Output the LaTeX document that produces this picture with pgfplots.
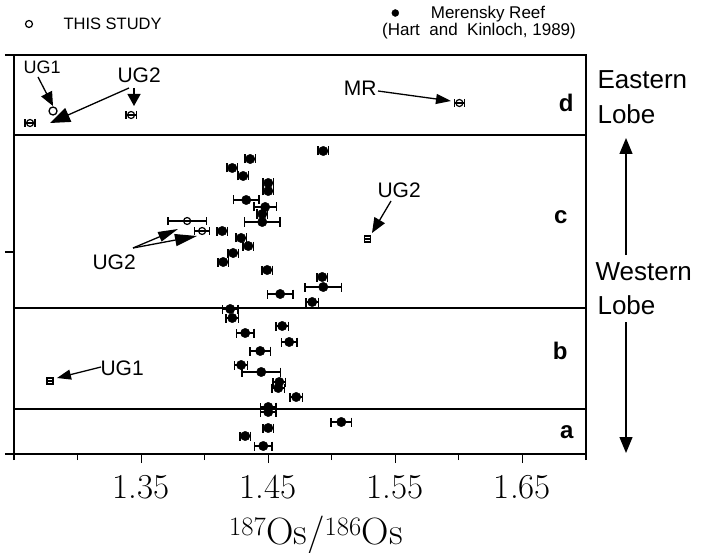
\documentclass[border=0pt]{standalone}
\usepackage{fontspec}
\setmainfont{Liberation Sans}
\newfontfamily\lmfont{Latin Modern Roman}
\usepackage{pgfplots}
\pgfplotsset{compat=1.18}
\usepackage{pgfplotstable}
\usetikzlibrary{arrows.meta}

% Merensky Reef (Hart and Kinloch, 1989): x, row position, x error
\pgfplotstableread{
x y ex
1.4933 303 0.004
1.4358 295 0.004
1.4217 286 0.004
1.4303 278 0.004
1.4500 271 0.004
1.4500 263 0.004
1.4327 254 0.010
1.4476 247 0.0087
1.4453 240 0.004
1.4453 232 0.014
1.4138 223 0.004
1.4287 216 0.004
1.4343 208 0.004
1.4224 201 0.004
1.4146 192 0.004
1.4492 184 0.004
1.4925 177 0.004
1.4933 167 0.0145
1.4594 160 0.010
1.4846 152 0.005
1.4201 145 0.006
1.4217 136 0.005
1.4610 128 0.005
1.4319 121 0.007
1.4665 112 0.006
1.4437 103 0.008
1.4287 89 0.005
1.4445 82 0.015
1.4587 72 0.005
1.4579 66 0.005
1.4720 57 0.005
1.4500 47 0.006
1.4500 42 0.006
1.5075 32 0.008
1.4500 26 0.004
1.4319 18 0.004
1.4461 8 0.007
}\mrdata

% This study, open circles
\pgfplotstableread{
x y ex
1.2626 331 0.004
1.3421 339 0.004
1.6004 351 0.004
1.3862 233 0.015
1.3980 223 0.006
}\studydata

% This study, open squares
\pgfplotstableread{
x y ex
1.5280 215 0.0
1.2783 73 0.002
}\studysq

\begin{document}
\begin{tikzpicture}
\begin{axis}[
  at={(14pt,98pt)}, anchor=south west,
  scale only axis, width=572pt, height=399pt,
  xmin=1.25, xmax=1.70, ymin=0, ymax=399,
  clip=false,
  axis line style={line width=1.3pt},
  xtick={1.35,1.45,1.55,1.65},
  minor xtick={1.25,1.30,1.40,1.50,1.60,1.70},
  ytick={0,202,399}, yticklabels={},
  xtick pos=bottom, ytick pos=left,
  tick align=outside,
  tick style={black, line width=1.2pt},
  major tick length=9pt, minor tick length=6pt,
  xticklabel style={font=\lmfont\fontsize{35}{40}\selectfont, yshift=-9pt},
  x tick label style={/pgf/number format/assume math mode=true, /pgf/number format/precision=2, /pgf/number format/fixed, /pgf/number format/fixed zerofill},
  error bars/error mark=|,
]
% panel separators
\draw[line width=1.3pt] (axis cs:1.25,319) -- (axis cs:1.70,319);
\draw[line width=1.3pt] (axis cs:1.25,146) -- (axis cs:1.70,146);
\draw[line width=1.3pt] (axis cs:1.25,45) -- (axis cs:1.70,45);

\addplot[only marks, mark=*, mark size=4.7pt, black,
  error bars/.cd, x dir=both, x explicit, error mark=|,
  error bar style={line width=1.3pt, black},
  error mark options={black, mark size=4.5pt, line width=1.4pt}]
  table[x=x, y=y, x error=ex] {\mrdata};

\addplot[only marks, mark=o, mark size=3.5pt, black, mark options={line width=1.2pt, fill=white},
  error bars/.cd, x dir=both, x explicit, error mark=|,
  error bar style={line width=1.2pt, black},
  error mark options={black, mark size=4pt, line width=1.3pt}]
  table[x=x, y=y, x error=ex] {\studydata};

\addplot[only marks, mark=o, mark size=4pt, black, mark options={line width=1.3pt, fill=white}]
  coordinates {(1.2807,343)};

\addplot[only marks, mark=square, mark size=3pt, black, mark options={line width=1.3pt, fill=white},
  error bars/.cd, x dir=both, x explicit, error mark=|,
  error bar style={line width=1.2pt, black},
  error mark options={black, mark size=3pt, line width=1.2pt}]
  table[x=x, y=y, x error=ex] {\studysq};

% legend markers
\addplot[only marks, mark=o, mark size=3.5pt, black, mark options={line width=1.2pt}] coordinates {(1.2618,430)};
\addplot[only marks, mark=*, mark size=3.5pt, black] coordinates {(1.5500,441)};
\end{axis}

\begin{scope}[shift={(0pt,552pt)}, x=1pt, y=-1pt]
% legend texts
\node[anchor=west, font=\fontsize{16.5}{19}\selectfont] at (60,24) {THIS STUDY};
\node[font=\fontsize{17}{20}\selectfont] at (488,14) {Merensky Reef};
\node[font=\fontsize{17}{20}\selectfont] at (479,31) {(Hart\ \ and\ \ Kinloch, 1989)};
% side labels
\node[anchor=west, font=\fontsize{26}{30}\selectfont] at (594,80) {Eastern};
\node[anchor=west, font=\fontsize{26}{30}\selectfont] at (594,114) {Lobe};
\node[anchor=west, font=\fontsize{26}{30}\selectfont] at (592,272) {Western};
\node[anchor=west, font=\fontsize{26}{30}\selectfont] at (594,305) {Lobe};
\draw[line width=1.3pt, -{Triangle[length=16pt, width=13pt]}] (626,255) -- (626,138);
\draw[line width=1.3pt, -{Triangle[length=16pt, width=13pt]}] (626,322) -- (626,453);
% panel letters
\node[anchor=east, font=\fontsize{24}{28}\selectfont\bfseries] at (577,103) {d};
\node[anchor=east, font=\fontsize{24}{28}\selectfont\bfseries] at (571,217) {c};
\node[anchor=east, font=\fontsize{24}{28}\selectfont\bfseries] at (571,351) {b};
\node[anchor=east, font=\fontsize{24}{28}\selectfont\bfseries] at (577,432) {a};
% annotations
\node[anchor=west, font=\fontsize{18}{21}\selectfont] at (20,67) {UG1};
\draw[line width=1.3pt, -{Triangle[length=14pt, width=12pt]}] (38,77) -- (53,106);
\node[anchor=west, font=\fontsize{21}{24}\selectfont] at (114,75) {UG2};
\draw[line width=1.3pt, -{Triangle[length=20pt, width=15pt]}] (129,88) -- (50,123);
\draw[line width=1.3pt, -{Triangle[length=12pt, width=13pt]}] (134,88) -- (134,106);
\node[anchor=east, font=\fontsize{21}{24}\selectfont] at (380,88) {MR};
\draw[line width=1.3pt, -{Triangle[length=15pt, width=10pt]}] (378,91) -- (451,101);
\node[anchor=west, font=\fontsize{21}{24}\selectfont] at (89,262) {UG2};
\draw[line width=1.3pt, -{Triangle[length=20pt, width=10pt]}] (133,248) -- (178,229);
\draw[line width=1.3pt, -{Triangle[length=22pt, width=12pt]}] (133,248) -- (197,236);
\node[anchor=west, font=\fontsize{21}{24}\selectfont] at (374,190) {UG2};
\draw[line width=1.3pt, -{Triangle[length=15pt, width=12pt]}] (391,201) -- (372,233);
\node[anchor=west, font=\fontsize{21}{24}\selectfont] at (97,368) {UG1};
\draw[line width=1.3pt, -{Triangle[length=14pt, width=10pt]}] (101,367) -- (57,378);
% x label
\node[font=\lmfont\fontsize{38}{44}\selectfont] at (316,535) {\textsuperscript{187}Os/\textsuperscript{186}Os};
\end{scope}
\pgfresetboundingbox
\useasboundingbox (0,0) rectangle (708pt,552pt);
\end{tikzpicture}
\end{document}
